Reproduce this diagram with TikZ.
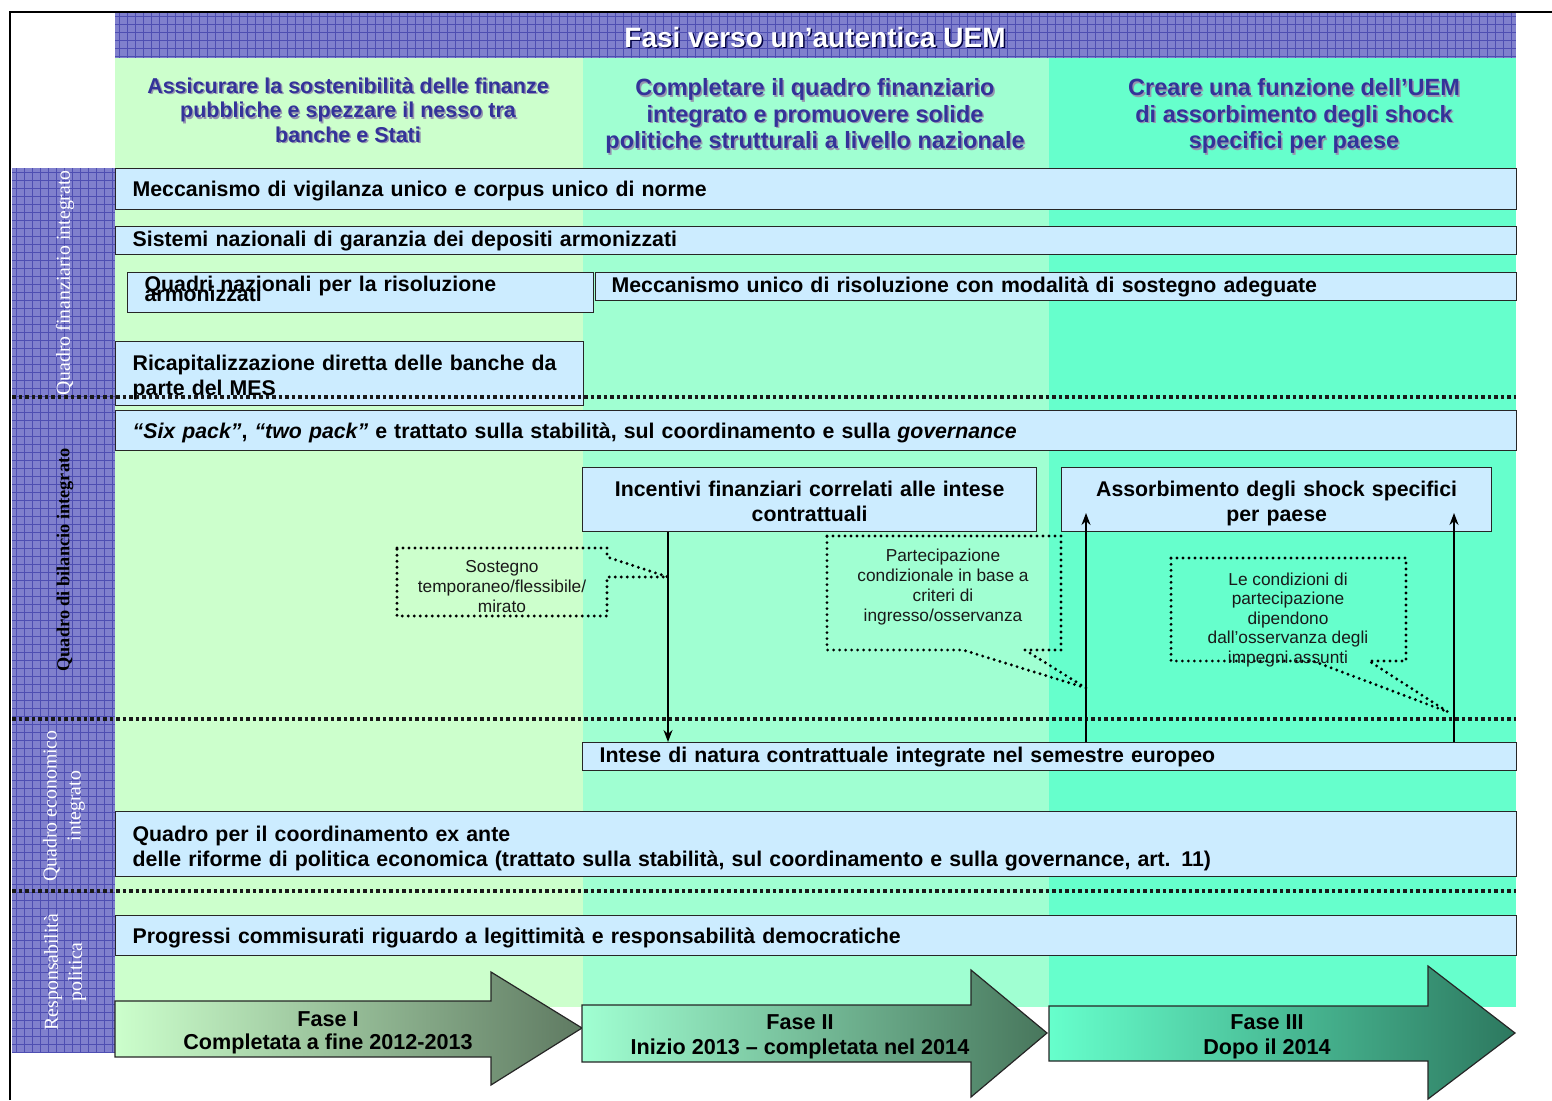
\documentclass[tikz,border=0pt]{standalone}
\usepackage{fontspec}
\setmainfont{Liberation Sans}
\newfontfamily\sidefont{Liberation Serif}
\usetikzlibrary{arrows.meta,calc}
\definecolor{colA}{RGB}{204,255,204}
\definecolor{colB}{RGB}{160,255,210}
\definecolor{colC}{RGB}{102,255,204}
\definecolor{boxfill}{RGB}{204,236,255}
\definecolor{hdtext}{RGB}{51,51,153}
\definecolor{hdshadow}{RGB}{150,150,175}
\definecolor{bandblue}{RGB}{128,128,205}
\definecolor{gridblue}{RGB}{78,78,178}
\definecolor{darkA}{RGB}{95,122,98}
\definecolor{midA}{RGB}{150,195,150}
\definecolor{darkB}{RGB}{72,118,92}
\definecolor{midB}{RGB}{110,200,150}
\definecolor{darkC}{RGB}{45,120,95}
\definecolor{midC}{RGB}{75,190,150}
\newcommand\bxfont{\bfseries\fontsize{21.3}{25}\selectfont}
\newcommand\tightfont{\bfseries\fontsize{21.3}{9.5}\selectfont\lineskiplimit=-100pt\relax}
\newcommand\hdfontA{\bfseries\fontsize{21.5}{24.5}\selectfont}
\newcommand\hdfontB{\bfseries\fontsize{23.5}{26.5}\selectfont}
\begin{document}
\begin{tikzpicture}[x=1pt,y=-1pt,
  box/.style={draw=black!85, line width=1.3pt, fill=boxfill, font=\bxfont, anchor=north west, inner ysep=0pt},
  lbox/.style={box, align=left, inner xsep=17pt},
  tall/.style={text depth=0pt},
  twoline/.style={text height=28.5pt, text depth=35.5pt},
  cbox/.style={box, align=center, inner xsep=4pt},
  hdr/.style={align=center, text=hdtext},
  hdrsh/.style={align=center, text=hdshadow},
  sep/.style={line width=3.5pt, dash pattern=on 3.5pt off 3pt, black!90},
  callout/.style={line width=3.2pt, dash pattern=on 0pt off 6pt, line cap=round, black},
  calltext/.style={font=\fontsize{17.3}{20}\selectfont, align=center, text=black!90},
  conn/.style={line width=1.6pt, black, -{Stealth[length=12pt,width=9pt]}},
  sidelab/.style={rotate=90, align=center, text=white, font=\sidefont\fontsize{19.8}{24}\selectfont},
  fase/.style={draw=black!85, line width=1.2pt},
  fasetext/.style={font=\bfseries\fontsize{21.6}{25}\selectfont, align=center, text=black}
]
\useasboundingbox (0,0) rectangle (1552,1100);
% column backgrounds
\fill[colA] (115,58) rectangle (583,1007);
\fill[colB] (583,58) rectangle (1049,1007);
\fill[colC] (1049,58) rectangle (1516,1007);
% header band
\fill[bandblue] (115,12) rectangle (1516,58);
\foreach \x in {119,127,...,1516} \draw[gridblue, line width=0.8pt] (\x,12) -- (\x,58);
\foreach \y in {16,24,...,58} \draw[gridblue, line width=0.8pt] (115,\y) -- (1516,\y);
% side band
\fill[bandblue] (12,168) rectangle (115,1052);
\foreach \x in {16,24,...,115} \draw[gridblue, line width=0.8pt] (\x,168) -- (\x,1052);
\foreach \y in {172,180,...,1052} \draw[gridblue, line width=0.8pt] (12,\y) -- (115,\y);
% frame
\draw[line width=2pt] (10,1100) -- (10,12) -- (1552,12);
% title
\node[font=\bfseries\fontsize{28}{32}\selectfont, text=black!75!blue] (titsh) at (816.5,38.5) {Fasi verso un’autentica UEM};
\node[font=\bfseries\fontsize{28}{32}\selectfont, text=white] (tit) at (815,37) {Fasi verso un’autentica UEM};
% column headers
\node[hdrsh, font=\hdfontA] (h1s) at (349.5,111.5) {Assicurare la sostenibilità delle finanze\\pubbliche e spezzare il nesso tra\\banche e Stati};
\node[hdr, font=\hdfontA] (h1) at (348,110) {Assicurare la sostenibilità delle finanze\\pubbliche e spezzare il nesso tra\\banche e Stati};
\node[hdrsh, font=\hdfontB] (h2s) at (816.5,117.5) {Completare il quadro finanziario\\integrato e promuovere solide\\politiche strutturali a livello nazionale};
\node[hdr, font=\hdfontB] (h2) at (815,116) {Completare il quadro finanziario\\integrato e promuovere solide\\politiche strutturali a livello nazionale};
\node[hdrsh, font=\hdfontB] (h3s) at (1295.5,117.5) {Creare una funzione dell’UEM\\di assorbimento degli shock\\specifici per paese};
\node[hdr, font=\hdfontB] (h3) at (1294,116) {Creare una funzione dell’UEM\\di assorbimento degli shock\\specifici per paese};
% side labels
\node[sidelab] (s1) at (65,283) {Quadro finanziario integrato};
\node[sidelab, text=black, font=\sidefont\bfseries\fontsize{18.3}{24}\selectfont] (s2) at (65,560) {Quadro di bilancio integrato};
\node[sidelab] (s3) at (64,806) {Quadro economico\\integrato};
\node[sidelab] (s4) at (65,972) {Responsabilità\\politica};
% boxes
\node[lbox, tall, text width=1367pt, minimum height=41pt] (b1) at (115,168) {Meccanismo di vigilanza unico e corpus unico di norme};
\node[lbox, text width=1367pt, minimum height=28pt] (b2) at (115,226) {Sistemi nazionali di garanzia dei depositi armonizzati};
\node[lbox, text width=432pt, text height=19pt, text depth=21pt, font=\tightfont] (b3) at (127,272) {Quadri nazionali per la risoluzione\\armonizzati};
\node[lbox, inner xsep=16pt, text width=889pt, minimum height=28pt] (b4) at (595,272) {Meccanismo unico di risoluzione con modalità di sostegno adeguate};
\node[lbox, twoline, text width=434pt] (b5) at (115,341) {Ricapitalizzazione diretta delle banche da\\parte del MES};
\node[lbox, tall, text width=1367pt, minimum height=40pt] (b6) at (115,410) {\textit{“Six pack”}, \textit{“two pack”} e trattato sulla stabilità, sul coordinamento e sulla \textit{governance}};
\node[cbox, twoline, text width=446pt] (incent) at (582,467) {Incentivi finanziari correlati alle intese\\contrattuali};
\node[cbox, twoline, text width=422pt] (assorb) at (1061,467) {Assorbimento degli shock specifici\\per paese};
\node[lbox, text width=900pt, minimum height=28pt] (intese) at (582,742) {Intese di natura contrattuale integrate nel semestre europeo};
\node[lbox, text height=29.5pt, text depth=35.5pt, text width=1367pt] (b10) at (115,811) {Quadro per il coordinamento ex ante\\delle riforme di politica economica (trattato sulla stabilità, sul coordinamento e sulla governance, art. 11)};
\node[lbox, tall, text width=1367pt, minimum height=40pt] (b11) at (115,915) {Progressi commisurati riguardo a legittimità e responsabilità democratiche};
% separators
\draw[sep] (12,397) -- (1516,397);
\draw[sep] (12,719) -- (1516,719);
\draw[sep] (12,891) -- (1516,891);
% callouts
\draw[callout] (397,548) -- (607,548) -- (607,557) -- (668,577) -- (607,577) -- (607,616) -- (397,616) -- cycle;
\node[calltext] (c1) at (502,587) {Sostegno\\temporaneo/flessibile/\\mirato};
\draw[callout] (827,536) -- (1061,536) -- (1061,650) -- (1025,650) -- (1086,688) -- (963,650) -- (827,650) -- cycle;
\node[calltext] (c2) at (943,587) {Partecipazione\\condizionale in base a\\criteri di\\ingresso/osservanza};
\draw[callout] (1171,558) -- (1406,558) -- (1406,661) -- (1369,661) -- (1448,712) -- (1313,661) -- (1171,661) -- cycle;
\node[calltext, font=\fontsize{17.3}{19.5}\selectfont] (c3) at (1288,620) {Le condizioni di\\partecipazione\\dipendono\\dall’osservanza degli\\impegni assunti};
% connectors
\coordinate (ax1) at (668,0);
\coordinate (ax2) at (1086,513);
\coordinate (ax3) at (1454,513);
\draw[conn] (incent.south -| ax1) -- (intese.north -| ax1);
\draw[conn] (intese.north -| ax2) -- (ax2);
\draw[conn] (intese.north -| ax3) -- (ax3);
% phase arrows
\draw[fase, left color=colA, middle color=midA, right color=darkA] (115,1001) -- (491,1001) -- (491,972) -- (582,1028) -- (491,1085) -- (491,1057) -- (115,1057) -- cycle;
\node[fasetext, font=\bfseries\fontsize{21.6}{23}\selectfont] (f1) at (328,1033) {Fase I\\Completata a fine 2012-2013};
\draw[fase, left color=colB, middle color=midB, right color=darkB] (582,1005) -- (971,1005) -- (971,970) -- (1047,1033) -- (971,1097) -- (971,1062) -- (582,1062) -- cycle;
\node[fasetext] (f2) at (800,1037) {Fase II\\Inizio 2013 – completata nel 2014};
\draw[fase, left color=colC, middle color=midC, right color=darkC] (1049,1006) -- (1428,1006) -- (1428,966) -- (1515,1033) -- (1428,1099) -- (1428,1061) -- (1049,1061) -- cycle;
\node[fasetext] (f3) at (1267,1037) {Fase III\\Dopo il 2014};
\end{tikzpicture}
\end{document}
